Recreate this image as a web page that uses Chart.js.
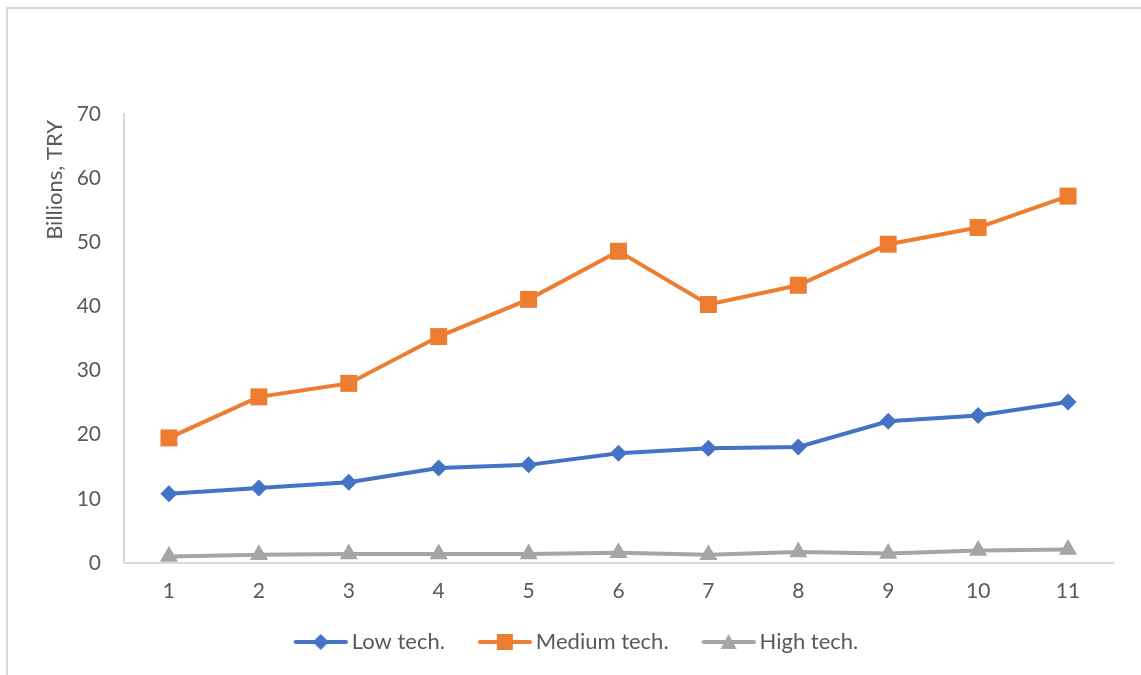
<!DOCTYPE html>
<html>
<head>
<meta charset="utf-8">
<script src="https://cdn.jsdelivr.net/npm/chart.js@4/dist/chart.umd.min.js"></script>
<style>
  html, body { margin: 0; padding: 0; background: #ffffff; }
  #wrap { position: relative; width: 1141px; height: 675px; overflow: hidden; }
  #frame { position: absolute; left: 6px; top: 7px; width: 1200px; height: 700px;
           border-left: 2px solid #d9d9d9; border-top: 2px solid #d9d9d9; }
  #chart { position: absolute; left: 0; top: 0; }
</style>
</head>
<body>
<div id="wrap">
  <div id="frame"></div>
  <canvas id="chart" width="1141" height="675"></canvas>
</div>
<script>
// Output by technology level, billions of TRY
const categories = ['1', '2', '3', '4', '5', '6', '7', '8', '9', '10', '11'];
const lowTech    = [10.8, 11.7, 12.6, 14.8, 15.3, 17.1, 17.9, 18.1, 22.1, 23.0, 25.1];
const mediumTech = [19.5, 25.9, 28.0, 35.3, 41.1, 48.6, 40.3, 43.3, 49.7, 52.3, 57.2];
const highTech   = [1.0, 1.3, 1.4, 1.4, 1.4, 1.6, 1.3, 1.7, 1.5, 1.95, 2.1];
const seriesNames = ['Low tech.', 'Medium tech.', 'High tech.'];
const yTicks = [0, 10, 20, 30, 40, 50, 60, 70];
const yTitle = 'Billions, TRY';

const BLUE = '#4472C4', ORANGE = '#ED7D31', GRAY = '#A5A5A5', TEXT = '#595959';
const FONT = 'Lato, "Open Sans", sans-serif';

// Legend swatch: a short line with the series marker in its middle.
// The left part of the image is left transparent so it spaces the items apart.
function legendSwatch(color, style) {
  const c = document.createElement('canvas');
  c.width = 84; c.height = 20;
  const g = c.getContext('2d');
  const cx = 57, cy = 10;
  g.strokeStyle = color; g.lineWidth = 4; g.lineCap = 'round';
  g.beginPath(); g.moveTo(32, cy); g.lineTo(82, cy); g.stroke();
  g.fillStyle = color;
  g.beginPath();
  if (style === 'diamond') {
    g.moveTo(cx, cy - 8); g.lineTo(cx + 8, cy); g.lineTo(cx, cy + 8); g.lineTo(cx - 8, cy);
  } else if (style === 'square') {
    g.rect(cx - 8, cy - 8, 16, 16);
  } else {
    g.moveTo(cx, cy - 8); g.lineTo(cx + 8, cy + 7); g.lineTo(cx - 8, cy + 7);
  }
  g.closePath(); g.fill();
  return c;
}

const swatches = [legendSwatch(BLUE, 'diamond'), legendSwatch(ORANGE, 'square'), legendSwatch(GRAY, 'triangle')];

const yTitlePlugin = {
  id: 'yTitle',
  afterDraw(chart) {
    const ctx = chart.ctx;
    ctx.save();
    ctx.translate(55, 180);
    ctx.rotate(-Math.PI / 2);
    ctx.font = '22px ' + FONT;
    ctx.fillStyle = TEXT;
    ctx.textAlign = 'center';
    ctx.textBaseline = 'middle';
    ctx.fillText(yTitle, 0, 0);
    ctx.restore();
  }
};

function lineDataset(label, data, color, pointStyle, radius, idx) {
  return {
    label, data,
    borderColor: color, backgroundColor: color,
    borderWidth: 4,
    pointStyle, pointRadius: radius, pointHoverRadius: radius,
    pointBackgroundColor: color, pointBorderColor: color, pointBorderWidth: 0,
    tension: 0, fill: false,
    swatch: swatches[idx]
  };
}

const PAD_LEFT = 16;

new Chart(document.getElementById('chart'), {
  type: 'line',
  data: {
    labels: categories,
    datasets: [
      lineDataset(seriesNames[0], lowTech, BLUE, 'rectRot', 8.5, 0),
      lineDataset(seriesNames[1], mediumTech, ORANGE, 'rect', 12, 1),
      lineDataset(seriesNames[2], highTech, GRAY, 'triangle', 10.5, 2)
    ]
  },
  options: {
    responsive: false,
    animation: false,
    events: [],
    layout: { padding: { left: PAD_LEFT, right: 28, top: 114, bottom: 12 } },
    plugins: {
      tooltip: { enabled: false },
      legend: {
        position: 'bottom',
        labels: {
          usePointStyle: true,
          pointStyleWidth: 70,
          padding: 10,
          color: TEXT,
          font: { family: FONT, size: 22 },
          generateLabels(chart) {
            return chart.data.datasets.map((ds, i) => ({
              text: ds.label,
              pointStyle: ds.swatch,
              fillStyle: ds.borderColor,
              strokeStyle: ds.borderColor,
              lineWidth: 0,
              hidden: false,
              datasetIndex: i,
              fontColor: TEXT
            }));
          }
        }
      }
    },
    scales: {
      x: {
        offset: true,
        grid: { display: false, drawTicks: false },
        border: { display: true, color: '#d9d9d9', width: 2 },
        ticks: { color: TEXT, font: { family: FONT, size: 21 }, padding: 16 },
        afterFit(scale) { scale.height = 58; }
      },
      y: {
        min: 0, max: 70,
        grid: { display: false, drawTicks: false },
        border: { display: true, color: '#d9d9d9', width: 2 },
        afterBuildTicks(scale) { scale.ticks = yTicks.map(v => ({ value: v })); },
        ticks: { color: TEXT, font: { family: FONT, size: 21 }, padding: 23 },
        afterFit(scale) { scale.width = 124 - PAD_LEFT; }
      }
    }
  },
  plugins: [yTitlePlugin]
});
</script>
</body>
</html>
